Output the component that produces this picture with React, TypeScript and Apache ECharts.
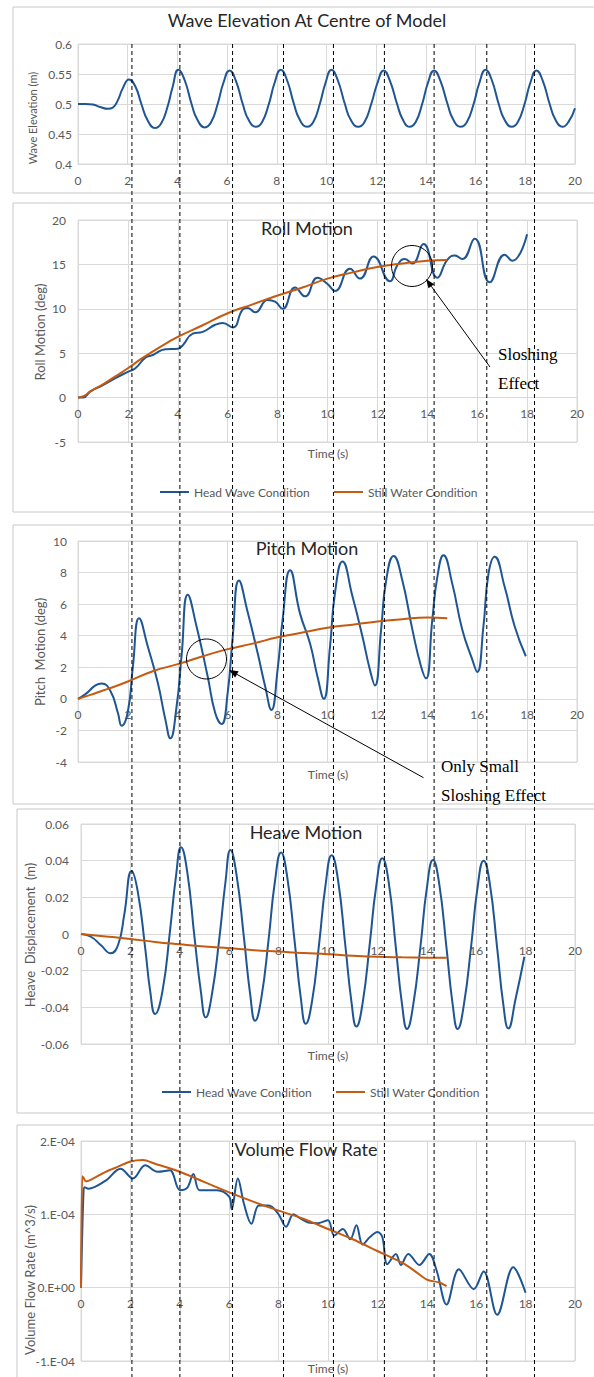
import React, { useEffect, useRef } from "react";
import * as echarts from "echarts";

// ---------- DATA ----------
const waveElevation: [number, number][] = [
  [0, 0.5], [0.3, 0.5], [0.6, 0.499], [0.9, 0.495], [1.2, 0.492], [1.4, 0.494], [1.6, 0.506], [1.8, 0.526], [2.05, 0.541],
  [2.3, 0.53], [2.55, 0.5], [2.8, 0.473], [3.1, 0.46], [3.35, 0.468], [3.6, 0.495], [3.8, 0.527], [4.04, 0.557],
  [4.29, 0.54], [4.57, 0.5], [4.8, 0.474], [5.1, 0.461], [5.35, 0.469], [5.62, 0.5], [5.85, 0.535], [6.1, 0.556],
  [6.35, 0.539], [6.63, 0.5], [6.86, 0.474], [7.16, 0.462], [7.41, 0.47], [7.68, 0.5], [7.91, 0.535], [8.16, 0.557],
  [8.41, 0.54], [8.69, 0.5], [8.92, 0.474], [9.22, 0.462], [9.47, 0.47], [9.73, 0.5], [9.96, 0.535], [10.2, 0.557],
  [10.45, 0.54], [10.74, 0.5], [10.97, 0.474], [11.28, 0.462], [11.53, 0.47], [11.8, 0.5], [12.05, 0.535], [12.3, 0.556],
  [12.55, 0.539], [12.84, 0.5], [13.07, 0.474], [13.34, 0.462], [13.59, 0.47], [13.85, 0.5], [14.08, 0.535], [14.33, 0.556],
  [14.58, 0.539], [14.87, 0.5], [15.1, 0.474], [15.4, 0.462], [15.65, 0.47], [15.92, 0.5], [16.15, 0.535], [16.4, 0.557],
  [16.65, 0.54], [16.93, 0.5], [17.16, 0.474], [17.45, 0.462], [17.7, 0.47], [17.97, 0.5], [18.2, 0.535], [18.45, 0.556],
  [18.7, 0.539], [18.98, 0.5], [19.21, 0.474], [19.5, 0.462], [19.75, 0.471], [20, 0.493],
];

const rollHeadWave: [number, number][] = [
  [0, 0], [0.2, 0], [0.5, 0.7], [1, 1.4], [1.5, 2.2], [2, 2.9], [2.3, 3.3], [2.7, 4.5], [3, 4.8], [3.5, 5.45], [4, 5.5],
  [4.2, 5.9], [4.6, 7.2], [5, 7.4], [5.5, 8.2], [5.8, 8.4], [6.2, 7.9], [6.6, 9.9], [6.8, 10.1], [7.1, 9.6], [7.6, 11.0],
  [7.9, 10.8], [8.2, 10.0], [8.7, 12.4], [9.1, 11.4], [9.6, 13.5], [10.0, 12.8], [10.3, 12.0], [10.9, 14.5], [11.3, 13.4],
  [11.85, 15.9], [12.5, 13.1], [12.8, 14.9], [13.1, 15.6], [13.4, 15.1], [13.85, 17.3], [14.4, 13.5], [14.8, 15.5],
  [15.1, 16.0], [15.4, 15.6], [15.9, 17.9], [16.5, 13.0], [17.1, 16.1], [17.4, 15.4], [18.0, 18.4],
];
const rollStillWater: [number, number][] = [
  [0, 0], [0.25, 0.2], [0.5, 0.7], [1, 1.5], [1.5, 2.4], [2, 3.3], [2.5, 4.3], [3, 5.2], [3.5, 6.05], [4, 6.85], [5, 8.15],
  [6, 9.5], [7, 10.5], [8, 11.5], [9, 12.4], [10, 13.4], [11, 14.1], [12, 14.7], [13, 15.1], [14, 15.4], [14.8, 15.5],
];

const pitchHeadWave: [number, number][] = [
  [0, 0], [0.3, 0.3], [0.7, 0.85], [0.95, 0.97], [1.3, 0.5], [1.6, -0.9], [1.75, -1.7], [2.0, -0.8], [2.2, 2.05], [2.45, 5.1],
  [2.8, 3.3], [3.2, 1.0], [3.5, -1.3], [3.7, -2.5], [3.95, -0.5], [4.15, 2.7], [4.4, 6.6], [4.75, 4.6], [5.2, 1.4], [5.5, -0.9],
  [5.75, -1.6], [6.0, 0.4], [6.2, 3.9], [6.45, 7.5], [6.8, 5.5], [7.2, 2.9], [7.5, 0.8], [7.75, -0.7], [8.0, 1.85], [8.2, 5.0],
  [8.5, 8.15], [8.9, 5.4], [9.3, 3.5], [9.6, 1.4], [9.85, 0], [10.1, 3.3], [10.3, 6.7], [10.6, 8.7], [11.0, 6.5], [11.4, 3.95],
  [11.7, 1.85], [11.9, 0.85], [12.15, 4.4], [12.35, 7.5], [12.65, 9.05], [13.0, 7.5], [13.4, 4.4], [13.75, 2.05], [13.95, 1.3],
  [14.2, 5.0], [14.4, 7.7], [14.65, 9.1], [15.0, 7.3], [15.4, 4.4], [15.8, 2.5], [16.0, 1.7], [16.25, 4.6], [16.45, 7.9],
  [16.7, 9.0], [17.1, 7.1], [17.5, 4.6], [17.95, 2.7],
];
const pitchStillWater: [number, number][] = [
  [0, 0], [0.5, 0.25], [1, 0.53], [1.5, 0.8], [2, 1.1], [3, 1.75], [4, 2.2], [5, 2.7], [6, 3.15], [7, 3.5], [8, 3.9],
  [9, 4.2], [10, 4.5], [11, 4.7], [12, 4.9], [13, 5.05], [14, 5.15], [14.8, 5.1],
];

const heaveHeadWave: [number, number][] = [
  [0, 0], [0.4, -0.0015], [0.8, -0.006], [1.2, -0.0105], [1.5, -0.006], [1.75, 0.0104], [2.05, 0.0344], [2.3, 0.023],
  [2.6, -0.0078], [2.8, -0.031], [3.0, -0.0436], [3.3, -0.031], [3.6, 0.0013], [3.85, 0.032], [4.05, 0.0473], [4.3, 0.034],
  [4.6, -0.0024], [4.85, -0.031], [5.05, -0.0455], [5.3, -0.033], [5.6, -0.0024], [5.85, 0.0285], [6.05, 0.0458], [6.3, 0.032],
  [6.6, -0.0024], [6.85, -0.033], [7.05, -0.0473], [7.3, -0.035], [7.6, -0.0024], [7.85, 0.0285], [8.1, 0.0445], [8.35, 0.031],
  [8.65, -0.0042], [8.9, -0.035], [9.1, -0.049], [9.35, -0.037], [9.65, -0.0042], [9.9, 0.0267], [10.15, 0.043], [10.4, 0.03],
  [10.7, -0.006], [10.95, -0.037], [11.15, -0.0505], [11.4, -0.0378], [11.7, -0.0042], [11.95, 0.0258], [12.2, 0.0413],
  [12.45, 0.029], [12.75, -0.0078], [13.0, -0.0387], [13.2, -0.0518], [13.45, -0.0387], [13.75, -0.006], [14.0, 0.0249],
  [14.25, 0.0404], [14.5, 0.0276], [14.8, -0.0078], [15.05, -0.0387], [15.25, -0.0518], [15.5, -0.0387], [15.8, -0.006],
  [16.05, 0.0249], [16.3, 0.04], [16.55, 0.0276], [16.85, -0.0078], [17.1, -0.0387], [17.3, -0.0515], [17.6, -0.035],
  [17.95, -0.0124],
];
const heaveStillWater: [number, number][] = [
  [0, 0], [1, -0.0013], [2, -0.0027], [3, -0.0043], [4, -0.0056], [5, -0.0068], [6, -0.0078], [7, -0.0088], [8, -0.0096],
  [9, -0.0104], [10, -0.011], [11, -0.0118], [12, -0.0124], [13, -0.0127], [14, -0.0129], [14.8, -0.013],
];

const flowHeadWave: [number, number][] = [
  [0, 0], [0.1, 1.3e-4], [0.15, 1.37e-4], [0.3, 1.35e-4], [1, 1.46e-4], [1.6, 1.62e-4], [2.1, 1.49e-4], [2.6, 1.67e-4],
  [3.1, 1.58e-4], [3.6, 1.6e-4], [4.0, 1.33e-4], [4.3, 1.36e-4], [4.55, 1.55e-4], [4.8, 1.33e-4], [5.5, 1.33e-4],
  [6.0, 1.24e-4], [6.1, 1.07e-4], [6.35, 1.49e-4], [6.6, 1.14e-4], [6.9, 0.87e-4], [7.2, 1.12e-4], [7.6, 1.12e-4],
  [8.0, 1.0e-4], [8.3, 0.83e-4], [8.6, 1.0e-4], [8.9, 0.94e-4], [9.2, 0.89e-4], [9.6, 0.88e-4], [10.0, 0.92e-4],
  [10.25, 0.71e-4], [10.6, 0.8e-4], [10.9, 0.66e-4], [11.15, 0.85e-4], [11.4, 0.59e-4], [11.7, 0.69e-4], [12.0, 0.76e-4],
  [12.2, 0.69e-4], [12.4, 0.32e-4], [12.75, 0.46e-4], [12.95, 0.31e-4], [13.25, 0.46e-4], [13.7, 0.31e-4], [14.1, 0.46e-4],
  [14.4, 0.23e-4], [14.8, -0.23e-4], [15.3, 0.25e-4], [15.9, -0.02e-4], [16.3, 0.22e-4], [16.85, -0.37e-4], [17.5, 0.28e-4],
  [18.0, -0.07e-4],
];
const flowStillWater: [number, number][] = [
  [0, 0], [0.05, 1.52e-4], [0.1, 1.5e-4], [0.2, 1.45e-4], [0.5, 1.49e-4], [1, 1.58e-4], [1.5, 1.65e-4], [2, 1.72e-4],
  [2.5, 1.74e-4], [3, 1.69e-4], [4, 1.58e-4], [5, 1.44e-4], [6, 1.3e-4], [7, 1.17e-4], [8, 1.05e-4], [9, 0.94e-4],
  [10, 0.8e-4], [11, 0.66e-4], [12, 0.5e-4], [13, 0.34e-4], [13.5, 0.23e-4], [14, 0.11e-4], [14.5, 0.07e-4], [14.8, 0.02e-4],
];

// times of the dashed reference lines (wave crests)
const referenceTimes = [2.17, 4.1, 6.22, 8.27, 10.28, 12.33, 14.33, 16.45, 18.37];

const panelTitles = ["Wave Elevation At Centre of Model", "Roll Motion", "Pitch Motion", "Heave Motion", "Volume Flow Rate"];
const yAxisNames = ["Wave Elevation (m)", "Roll Motion (deg)", "Pitch  Motion (deg)", "Heave  Displacement  (m)", "Volume Flow Rate (m^3/s)"];
const xAxisName = "Time (s)";
const legendNames = ["Head Wave Condition", "Still Water Condition"];

// ---------- STYLE / LAYOUT ----------
const W = 594;
const H = 1377;
const BLUE = "#1f5592";
const ORANGE = "#c55a11";
const GRID_COLOR = "#d9d9d9";
const LABEL_COLOR = "#595959";
const FONT = "Lato";

const grids = [
  { left: 78, top: 44, width: 497, height: 120 },
  { left: 78, top: 220, width: 499, height: 222 },
  { left: 78, top: 541, width: 499, height: 221 },
  { left: 81, top: 824, width: 494, height: 220 },
  { left: 81, top: 1141, width: 494, height: 220 },
];
const yRanges = [
  { min: 0.4, max: 0.6, interval: 0.05 },
  { min: -5, max: 20, interval: 5 },
  { min: -4, max: 10, interval: 2 },
  { min: -0.06, max: 0.06, interval: 0.02 },
  { min: -1e-4, max: 2e-4, interval: 1e-4 },
];
const yLabelMargins = [6, 12, 11, 12, 6];
const yNameSizes = [11, 13, 13, 13, 13];
const panelBoxes = [
  { x: 13, y: 7, h: 186 },
  { x: 13, y: 203, h: 309 },
  { x: 13, y: 525, h: 279 },
  { x: 17, y: 809, h: 304 },
  { x: 17, y: 1125, h: 300 },
];
const titlePos = [[307, 20], [307, 228], [307, 548], [306, 832], [306, 1149]];
const yNamePos = [[32, 118], [40, 332], [40, 652], [30, 935], [30, 1280]];
const timeNamePos = [null, [328, 453], [328, 774], [328, 1055], [328, 1368]];

function flowLabel(v: number) {
  if (Math.abs(v) < 1e-12) return "0.E+00";
  return Math.round(v / 1e-4) + ".E-04";
}

function arrow(from: number[], to: number[]) {
  const dx = to[0] - from[0];
  const dy = to[1] - from[1];
  const len = Math.sqrt(dx * dx + dy * dy);
  const ux = dx / len;
  const uy = dy / len;
  const hl = 9;
  const hw = 3.5;
  const bx = to[0] - ux * hl;
  const by = to[1] - uy * hl;
  return [
    { type: "line", shape: { x1: from[0], y1: from[1], x2: bx, y2: by }, style: { stroke: "#000", lineWidth: 1 }, z: 60 },
    {
      type: "polygon",
      shape: { points: [[to[0], to[1]], [bx - uy * hw, by + ux * hw], [bx + uy * hw, by - ux * hw]] },
      style: { fill: "#000" },
      z: 60,
    },
  ];
}

export default function App() {
  const ref = useRef<HTMLDivElement>(null);

  useEffect(() => {
    if (!ref.current) return;
    const chart = echarts.init(ref.current, undefined, { renderer: "svg", width: W, height: H });

    const xAxes = grids.map((g, i) => {
      const r = yRanges[i];
      // place the time axis where the value axis crosses zero (if zero is in range)
      const zeroFrac = r.min < 0 && r.max > 0 ? (0 - r.min) / (r.max - r.min) : 0;
      return {
        type: "value",
        gridIndex: i,
        min: 0,
        max: 20,
        interval: 2,
        position: "bottom",
        offset: -zeroFrac * g.height,
        axisLine: { show: true, onZero: false, lineStyle: { color: GRID_COLOR } },
        axisTick: { show: false },
        axisLabel: { color: LABEL_COLOR, fontSize: 12, fontFamily: FONT, margin: 10 },
        splitLine: { show: true, lineStyle: { color: GRID_COLOR, width: 1 } },
      };
    });
    const yAxes = grids.map((_, i) => ({
      type: "value",
      gridIndex: i,
      min: yRanges[i].min,
      max: yRanges[i].max,
      interval: yRanges[i].interval,
      axisLine: { show: false, onZero: false },
      axisTick: { show: false },
      axisLabel: {
        color: LABEL_COLOR,
        fontSize: 12,
        fontFamily: FONT,
        margin: yLabelMargins[i],
        formatter: i === 4 ? flowLabel : undefined,
      },
      splitLine: { show: true, lineStyle: { color: GRID_COLOR, width: 1 } },
    }));

    const lineSeries = (name: string, data: [number, number][], idx: number, color: string, smooth: number | boolean = true) => ({
      type: "line",
      name,
      data,
      xAxisIndex: idx,
      yAxisIndex: idx,
      showSymbol: false,
      symbol: "none",
      smooth,
      lineStyle: { color, width: 2 },
      itemStyle: { color },
      z: 3,
    });

    const series = [
      lineSeries("Wave Elevation", waveElevation, 0, BLUE),
      lineSeries(legendNames[0], rollHeadWave, 1, BLUE),
      lineSeries(legendNames[1], rollStillWater, 1, ORANGE),
      lineSeries(legendNames[0], pitchHeadWave, 2, BLUE),
      lineSeries(legendNames[1], pitchStillWater, 2, ORANGE),
      lineSeries(legendNames[0], heaveHeadWave, 3, BLUE),
      lineSeries(legendNames[1], heaveStillWater, 3, ORANGE),
      lineSeries(legendNames[0], flowHeadWave, 4, BLUE, 0.35),
      lineSeries(legendNames[1], flowStillWater, 4, ORANGE, 0.3),
    ];

    const graphics: any[] = [];
    panelBoxes.forEach((b) => {
      graphics.push({
        type: "rect",
        shape: { x: b.x, y: b.y, width: 620, height: b.h },
        style: { fill: "none", stroke: "#c8c8c8", lineWidth: 1 },
        z: 0,
        silent: true,
      });
    });
    panelTitles.forEach((t, i) => {
      graphics.push({
        type: "text",
        x: titlePos[i][0],
        y: titlePos[i][1],
        style: { text: t, fill: "#262626", font: `18px ${FONT}`, align: "center", verticalAlign: "middle" },
        z: 50,
      });
    });
    yAxisNames.forEach((t, i) => {
      graphics.push({
        type: "text",
        x: yNamePos[i][0],
        y: yNamePos[i][1],
        rotation: Math.PI / 2,
        style: { text: t, fill: LABEL_COLOR, font: `${yNameSizes[i]}px ${FONT}`, align: "center", verticalAlign: "middle" },
        z: 50,
      });
    });
    timeNamePos.forEach((p) => {
      if (!p) return;
      graphics.push({
        type: "text",
        x: p[0],
        y: p[1],
        style: { text: xAxisName, fill: LABEL_COLOR, font: `12px ${FONT}`, align: "center", verticalAlign: "middle" },
        z: 50,
      });
    });
    // dashed reference lines through all panels
    const g0 = grids[0];
    referenceTimes.forEach((t) => {
      const x = g0.left + (t / 20) * g0.width;
      graphics.push({
        type: "line",
        shape: { x1: x, y1: g0.top, x2: x, y2: H },
        style: { stroke: "#000", lineWidth: 1, lineDash: [4, 3] },
        z: 40,
        silent: true,
      });
    });
    // annotations
    graphics.push({ type: "circle", shape: { cx: 412, cy: 266, r: 20.5 }, style: { fill: "none", stroke: "#000", lineWidth: 1 }, z: 60 });
    graphics.push(...arrow([490, 367], [426, 279]));
    graphics.push({ type: "text", x: 498, y: 354, style: { text: "Sloshing", fill: "#000", font: "17px 'Liberation Serif'", verticalAlign: "middle" }, z: 60 });
    graphics.push({ type: "text", x: 498, y: 383, style: { text: "Effect", fill: "#000", font: "17px 'Liberation Serif'", verticalAlign: "middle" }, z: 60 });
    graphics.push({ type: "circle", shape: { cx: 206.5, cy: 659, r: 20 }, style: { fill: "none", stroke: "#000", lineWidth: 1 }, z: 60 });
    graphics.push(...arrow([423.5, 777.7], [229, 670]));
    graphics.push({ type: "text", x: 441, y: 766, style: { text: "Only Small", fill: "#000", font: "17px 'Liberation Serif'", verticalAlign: "middle" }, z: 60 });
    graphics.push({ type: "text", x: 441, y: 795, style: { text: "Sloshing Effect", fill: "#000", font: "17px 'Liberation Serif'", verticalAlign: "middle" }, z: 60 });

    const legendBase = {
      data: legendNames,
      icon: "rect",
      itemWidth: 29,
      itemHeight: 2,
      itemGap: 24,
      textStyle: { color: LABEL_COLOR, fontSize: 12, fontFamily: FONT },
      selectedMode: false,
    };

    chart.setOption({
      animation: false,
      backgroundColor: "#fff",
      textStyle: { fontFamily: FONT },
      grid: grids.map((g) => ({ ...g, show: true, borderColor: GRID_COLOR, borderWidth: 1, backgroundColor: "transparent", containLabel: false })),
      xAxis: xAxes,
      yAxis: yAxes,
      legend: [
        { ...legendBase, left: 155, top: 481 },
        { ...legendBase, left: 157, top: 1081 },
      ],
      series,
      graphic: graphics,
    });

    return () => chart.dispose();
  }, []);

  return <div ref={ref} style={{ position: "absolute", left: 0, top: 0, width: W, height: H }} />;
}
